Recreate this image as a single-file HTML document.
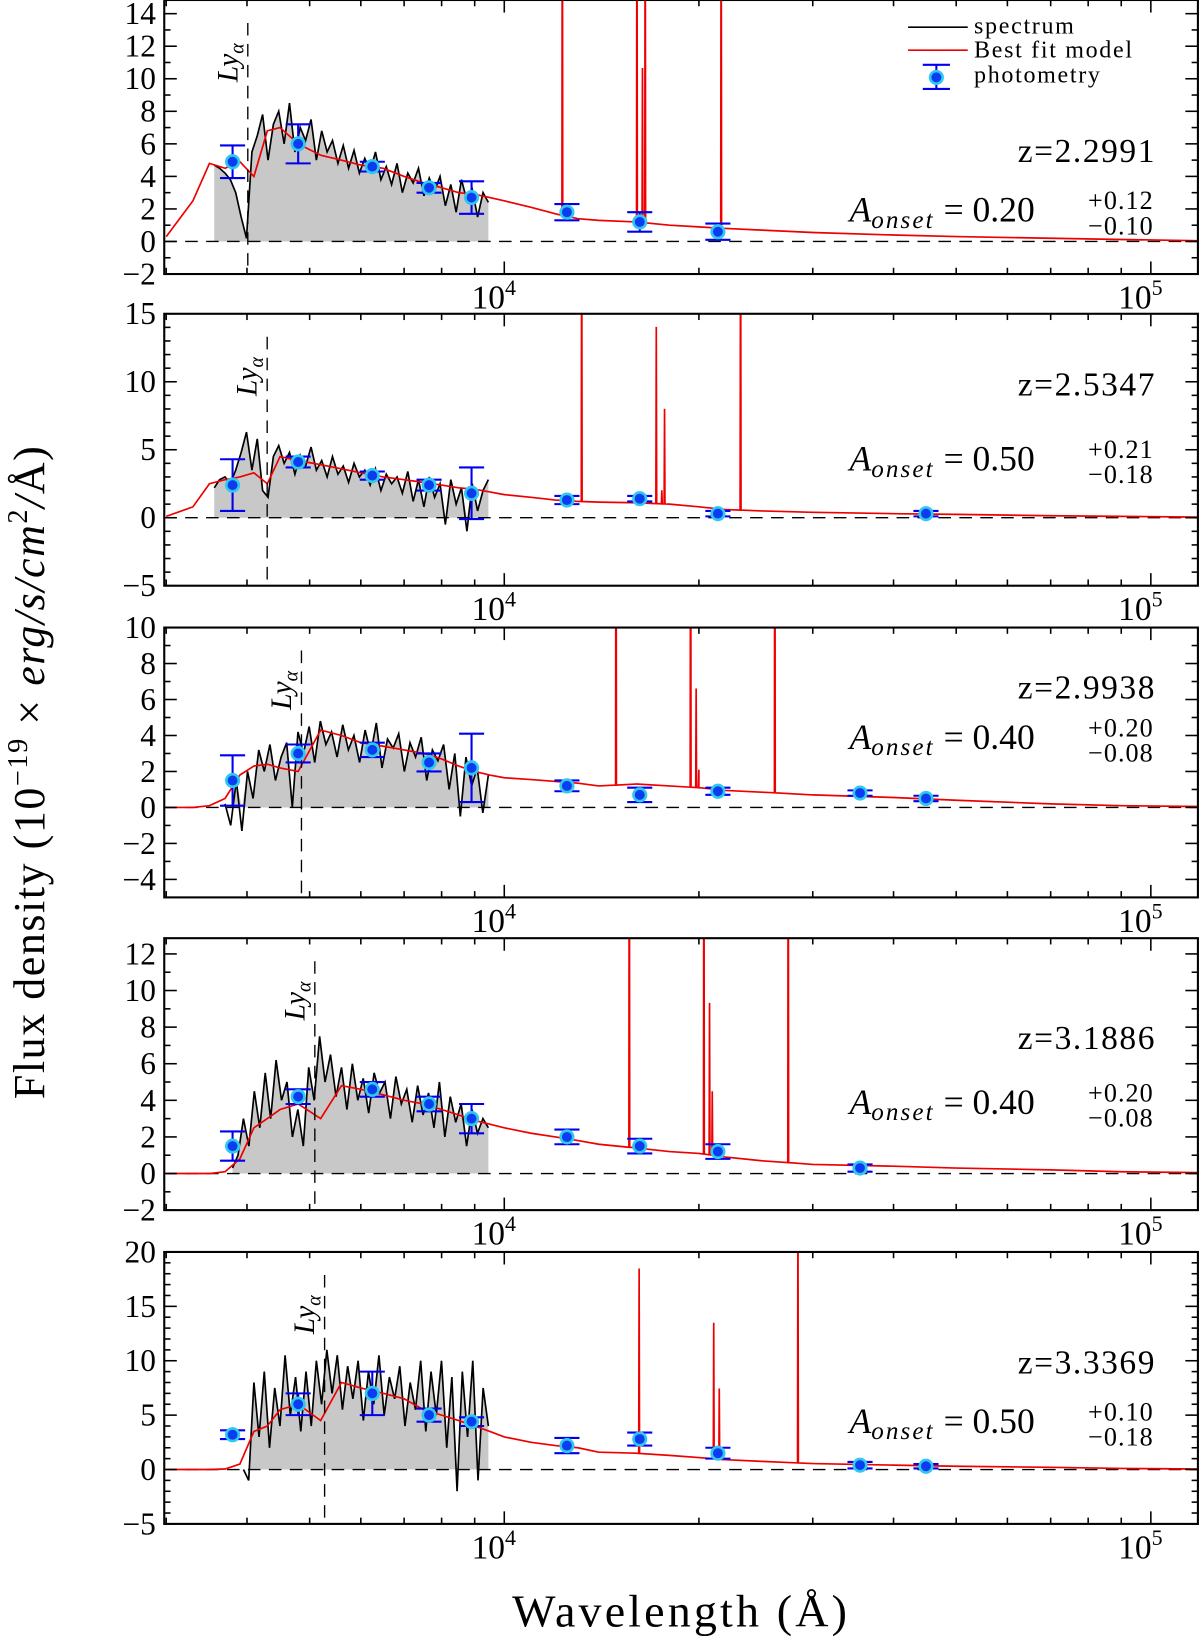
<!DOCTYPE html>
<html><head><meta charset="utf-8"><style>
html,body{margin:0;padding:0;background:#fff}
svg{display:block}
text{font-family:"Liberation Serif","DejaVu Serif",serif;fill:#000}
</style></head><body>
<svg id="chart" xmlns="http://www.w3.org/2000/svg" width="1200" height="1640" viewBox="0 0 1147 1568" preserveAspectRatio="none">
<text transform="translate(42,738) rotate(-90)" text-anchor="middle" font-size="42" letter-spacing="1.5">Flux density (10<tspan font-size="27" dy="-16">−19</tspan><tspan dy="16"> × </tspan><tspan font-style="italic">erg/s/cm</tspan><tspan font-size="27" dy="-16">2</tspan><tspan dy="16" font-style="italic">/</tspan>Å)</text>
<text x="651" y="1555" text-anchor="middle" font-size="44" letter-spacing="3">Wavelength (Å)</text>
</svg>
<script>
// ---- data ----
const photLam=[3800,4800,6250,7650,8900,12500,16200,21400,35500,44900];
const phot1=[4.9,6.0,4.6,3.3,2.7,1.8,1.2,0.6,null,null];
const err1=[1.0,1.2,0.3,0.3,1.0,0.5,0.6,0.5,null,null];
const phot2=[2.4,4.1,3.1,2.4,1.8,1.3,1.4,0.3,null,0.3];
const err2=[1.9,0.4,0.3,0.4,1.9,0.3,0.2,0.2,null,0.2];
const phot3=[1.5,3.0,3.2,2.5,2.2,1.2,0.7,0.9,0.8,0.5];
const err3=[1.4,0.5,0.4,0.5,1.9,0.3,0.4,0.2,0.15,0.15];
const phot4=[1.5,4.2,4.6,3.8,3.0,2.0,1.5,1.2,0.3,null];
const err4=[0.8,0.4,0.4,0.4,0.8,0.4,0.4,0.4,0.2,null];
const phot5=[3.2,6.0,7.0,5.0,4.4,2.2,2.8,1.5,0.4,0.3];
const err5=[0.4,1.0,2.0,0.6,0.4,0.7,0.6,0.5,0.3,0.2];

const modelLam=[3000,3300,3500,3700,3900,4100,4300,4500,4800,5200,5600,6000,6500,7000,7500,8000,8500,9000,9500,10000,11000,12000,13000,14000,16000,18000,20000,22000,25000,30000,40000,50000,70000,90000,118000];
const model1=[0.3,2.5,4.8,4.5,4.9,4.0,6.8,7.0,6.0,5.3,5.0,4.7,4.5,4.0,3.6,3.3,3.0,2.9,2.7,2.5,2.1,1.7,1.4,1.3,1.2,1.0,0.9,0.8,0.7,0.55,0.4,0.3,0.2,0.12,0.05];
const model2=[0.1,0.8,2.5,2.8,3.0,3.3,2.5,4.5,4.2,3.9,3.6,3.3,3.0,2.8,2.6,2.4,2.2,2.1,1.9,1.7,1.5,1.3,1.2,1.15,1.1,1.0,0.8,0.6,0.5,0.4,0.3,0.25,0.15,0.1,0.05];
const model3=[0,0,0.1,0.5,1.8,2.3,2.4,2.2,2.0,4.3,4.0,3.6,3.4,3.2,3.0,2.7,2.3,2.0,1.8,1.65,1.55,1.45,1.35,1.2,1.3,1.2,1.1,0.95,0.85,0.7,0.55,0.4,0.2,0.1,0.05];
const model4=[0,0,0,0.1,0.8,2.5,3.0,3.5,3.8,3.0,4.8,4.6,4.3,4.0,3.8,3.5,3.2,2.9,2.7,2.5,2.2,2.0,1.8,1.6,1.4,1.2,1.1,0.9,0.7,0.5,0.4,0.3,0.2,0.1,0.05];
const model5=[0,0,0,0.05,0.5,3.5,4.0,5.5,6.0,4.5,8.0,7.5,7.0,6.5,5.5,5.0,4.5,4.0,3.5,3.0,2.5,2.2,2.0,1.6,1.5,1.3,1.1,0.9,0.75,0.55,0.4,0.3,0.2,0.1,0.05];

const restLines=[3727,4861,4959,5007,6563];
const lineH1=[25,25,9.5,25,25];
const lineH2=[25,13,1,7,25];
const lineH3=[25,25,5.5,1,25];
const lineH4=[25,25,8.3,3.5,25];
const lineH5=[17,12.5,6.5,1,25];

const spec1=[4.7,4.5,4.2,3.8,3.0,1.5,0.2,5.5,6.5,7.8,5.0,7.2,8.0,6.0,8.5,5.5,7.0,6.2,7.5,5.0,6.8,5.5,6.2,4.8,5.9,4.5,5.6,4.2,5.1,4.3,5.5,3.8,4.6,3.5,4.8,3.0,4.2,3.6,4.5,2.8,3.9,3.1,4.0,2.2,3.5,1.8,3.8,2.5,3.2,1.5,3.0,2.4];
const spec2=[2.2,2.8,3.0,2.5,3.5,4.8,6.3,3.5,5.8,2.0,1.5,4.5,5.3,4.0,4.8,3.2,4.6,3.8,5.2,3.5,4.2,3.0,4.5,3.2,3.8,2.6,4.0,3.0,3.5,2.4,3.6,2.0,3.2,2.5,3.0,1.8,3.4,1.2,2.8,0.8,3.0,1.5,2.5,-0.5,2.8,1.0,2.2,-1.0,2.5,0.5,2.0,2.8];
const spec3=[0.2,-1.0,1.5,-1.3,2.0,0.5,3.2,2.0,3.5,1.5,2.8,3.6,0.0,4.2,3.0,4.5,2.5,4.8,3.5,4.2,2.8,4.6,3.2,4.0,2.5,4.3,3.0,4.7,2.2,3.8,3.3,4.1,2.0,3.6,2.8,3.9,1.5,3.2,2.6,3.5,1.0,3.0,-0.5,2.8,1.2,2.2,-0.3,1.8];
const spec4=[0.3,1.0,3.0,1.5,4.5,2.5,5.5,3.0,6.2,4.0,5.0,2.0,3.5,1.5,5.8,4.0,7.5,5.0,6.5,4.2,5.8,3.5,6.0,4.0,5.2,3.3,5.5,4.4,5.0,3.0,5.3,3.8,4.6,2.8,4.8,3.2,4.4,2.5,5.0,2.0,4.2,2.8,3.8,1.5,3.5,2.2,3.0,2.5];
const spec5=[0.0,-1.0,8.0,3.0,9.0,2.0,7.5,4.0,10.5,5.0,8.5,3.5,9.0,4.0,10.0,6.0,11.0,7.0,10.5,5.5,9.5,6.5,10.0,4.5,9.0,6.0,10.5,5.0,8.5,6.5,9.5,4.0,8.0,5.5,10.0,3.5,9.0,5.0,10.0,2.0,8.5,-2.0,9.0,3.0,10.0,-1.0,7.5,4.0];
const specStart=[3560,3560,3700,3800,3950];
const specEnd=9450;

const redshifts=[2.2991,2.5347,2.9938,3.1886,3.3369];
const zLabels=["2.2991","2.5347","2.9938","3.1886","3.3369"];
const aVal=["0.20","0.50","0.40","0.40","0.50"];
const aUp=["+0.12","+0.21","+0.20","+0.20","+0.10"];
const aDn=["−0.10","−0.18","−0.08","−0.08","−0.18"];
const yTicks1=[-2,0,2,4,6,8,10,12,14];
const yTicks2=[-5,0,5,10,15];
const yTicks3=[-4,-2,0,2,4,6,8,10];
const yTicks4=[-2,0,2,4,6,8,10,12];
const yTicks5=[-5,0,5,10,15,20];

// ---- layout ----
const NS="http://www.w3.org/2000/svg";
const svg=document.getElementById('chart');
const X0=157,X1=1145;
const xs=l=>482+618*(Math.log10(l)-4);
const panels=[
 {top:0,bot:262,ymin:-2,ymax:14.84,ticks:yTicks1,spec:spec1,model:model1,phot:phot1,err:err1,lh:lineH1,zy:155,ay:212},
 {top:300,bot:560,ymin:-5,ymax:15,ticks:yTicks2,spec:spec2,model:model2,phot:phot2,err:err2,lh:lineH2,zy:378,ay:450},
 {top:600,bot:858,ymin:-5,ymax:10,ticks:yTicks3,spec:spec3,model:model3,phot:phot3,err:err3,lh:lineH3,zy:668,ay:716},
 {top:897,bot:1157,ymin:-2,ymax:12.86,ticks:yTicks4,spec:spec4,model:model4,phot:phot4,err:err4,lh:lineH4,zy:1003,ay:1065},
 {top:1197,bot:1457,ymin:-5,ymax:20,ticks:yTicks5,spec:spec5,model:model5,phot:phot5,err:err5,lh:lineH5,zy:1313,ay:1370}
];
function mk(tag,attrs,parent){const e=document.createElementNS(NS,tag);for(const k in attrs)e.setAttribute(k,attrs[k]);(parent||svg).appendChild(e);return e;}
function interp(arr,l){for(let i=0;i<modelLam.length-1;i++){if(l>=modelLam[i]&&l<=modelLam[i+1]){const t=(Math.log(l)-Math.log(modelLam[i]))/(Math.log(modelLam[i+1])-Math.log(modelLam[i]));return arr[i]+t*(arr[i+1]-arr[i]);}}return 0;}

panels.forEach((p,pi)=>{
 const ys=v=>p.bot-(v-p.ymin)*(p.bot-p.top)/(p.ymax-p.ymin);
 const g=mk('g',{});
 
 
 const cid='clip'+pi;
 const cp=mk('clipPath',{id:cid},g);mk('rect',{x:X0,y:p.top,width:X1-X0,height:p.bot-p.top},cp);
 const pg=mk('g',{'clip-path':'url(#'+cid+')'},g);
 const n=p.spec.length,l0=Math.log10(specStart[pi]),l1=Math.log10(specEnd);
 const sl=p.spec.map((v,i)=>Math.pow(10,l0+(l1-l0)*i/(n-1)));
 let fd='M'+xs(sl[0])+','+ys(0);
 sl.forEach((l,i)=>{fd+=' L'+xs(l).toFixed(1)+','+ys(Math.max(0,p.spec[i])).toFixed(1);});
 fd+=' L'+xs(sl[n-1])+','+ys(0)+'Z';
 const fill=mk('path',{d:fd,fill:'#c8c8c8',stroke:'none'},pg);
 
 
 const zl=mk('line',{x1:X0,x2:X1,y1:ys(0),y2:ys(0),stroke:'#000','stroke-width':1.3,'stroke-dasharray':'12,8'},pg);
 
 
 let sd='';sl.forEach((l,i)=>{sd+=(i?' L':'M')+xs(l).toFixed(1)+','+ys(p.spec[i]).toFixed(1);});
 const sp=mk('path',{d:sd,fill:'none',stroke:'#000','stroke-width':1.6},pg);
 
 
 const z=redshifts[pi];
 let pts=modelLam.map((l,i)=>[l,p.model[i]]);
 restLines.forEach((rl,k)=>{const lo=rl*(1+z),b=interp(p.model,lo);pts.push([lo*0.9985,b],[lo,b+p.lh[k]],[lo*1.0015,b]);});
 pts.sort((a,b)=>a[0]-b[0]);
 let md='';pts.forEach((q,i)=>{md+=(i?' L':'M')+xs(q[0]).toFixed(1)+','+ys(q[1]).toFixed(1);});
 const mp=mk('path',{d:md,fill:'none',stroke:'#e00','stroke-width':1.6},pg);
 
 
 const lx=xs(1216*(1+z));
 const ll=mk('line',{x1:lx,x2:lx,y1:p.top+22,y2:p.bot,stroke:'#000','stroke-width':1.3,'stroke-dasharray':'12,8'},pg);
 
 
 const lt=mk('text',{transform:`translate(${lx-10},${p.top+60}) rotate(-90)`,'font-size':28,'font-style':'italic','text-anchor':'middle'},g);
 lt.innerHTML='Ly<tspan font-size="19" dy="6">α</tspan>';
 
 
 photLam.forEach((l,i)=>{const v=p.phot[i];if(v==null)return;const x=xs(l),e=p.err[i];
  const pgp=mk('g',{},pg);
  
  
  mk('line',{x1:x,x2:x,y1:ys(v-e),y2:ys(v+e),stroke:'#0000ee','stroke-width':2},pgp);
  mk('line',{x1:x-12,x2:x+12,y1:ys(v-e),y2:ys(v-e),stroke:'#0000ee','stroke-width':2},pgp);
  mk('line',{x1:x-12,x2:x+12,y1:ys(v+e),y2:ys(v+e),stroke:'#0000ee','stroke-width':2},pgp);
  mk('circle',{cx:x,cy:ys(v),r:6,fill:'#0a3cf0',stroke:'#30c8f0','stroke-width':2.5},pgp);
 });
 const fr=mk('rect',{x:X0,y:p.top,width:X1-X0,height:p.bot-p.top,fill:'none',stroke:'#000','stroke-width':2},g);
 
 
 for(let d=1000;d<=100000;d*=10)for(let m=1;m<=9;m++){const l=d*m,x=xs(l);if(x<X0||x>X1)continue;const L=m==1?12:6;
  mk('line',{x1:x,x2:x,y1:p.bot,y2:p.bot-L,stroke:'#000','stroke-width':1.5},g);
  mk('line',{x1:x,x2:x,y1:p.top,y2:p.top+L,stroke:'#000','stroke-width':1.5},g);}
 [[10000,'4'],[100000,'5']].forEach(([l,e])=>{const t=mk('text',{x:xs(l)-10,y:p.bot+33,'font-size':32,'text-anchor':'middle'},g);t.innerHTML='10<tspan font-size="21" dy="-13">'+e+'</tspan>';
  
  });
 const step=p.ticks[1]-p.ticks[0];
 const ms=step/(step==5?5:2);
 for(let v=Math.ceil(p.ymin/ms)*ms;v<=p.ymax;v+=ms){const y=ys(v);const maj=p.ticks.some(t=>Math.abs(t-v)<1e-6);const L=maj?12:6;
  mk('line',{x1:X0,x2:X0+L,y1:y,y2:y,stroke:'#000','stroke-width':1.5},g);
  mk('line',{x1:X1,x2:X1-L,y1:y,y2:y,stroke:'#000','stroke-width':1.5},g);}
 p.ticks.forEach(v=>{const t=mk('text',{x:X0-8,y:ys(v)+10,'font-size':30,'text-anchor':'end'},g);t.textContent=(v<0?'−':'')+Math.abs(v);
  
  });
 const zt=mk('text',{x:1105,y:p.zy,'font-size':32,'text-anchor':'end','letter-spacing':1.5},g);zt.textContent='z='+zLabels[pi];
 
 
 const at=mk('text',{x:812,y:p.ay,'font-size':34},g);
 at.innerHTML='<tspan font-style="italic">A</tspan><tspan font-style="italic" font-size="24" dy="6" letter-spacing="2">onset</tspan><tspan dy="-6"> = '+aVal[pi]+'</tspan>';
 
 
 const au=mk('text',{x:1040,y:p.ay-12,'font-size':25,'letter-spacing':1},g);au.textContent=aUp[pi];
 
 
 const ad=mk('text',{x:1040,y:p.ay+12,'font-size':25,'letter-spacing':1},g);ad.textContent=aDn[pi];
 
 
});
const lg=mk('g',{});


mk('line',{x1:868,x2:925,y1:26,y2:26,stroke:'#000','stroke-width':1.6},lg);
mk('line',{x1:868,x2:925,y1:48,y2:48,stroke:'#e00','stroke-width':1.6},lg);
mk('line',{x1:895,x2:895,y1:62,y2:85,stroke:'#0000ee','stroke-width':2},lg);
mk('line',{x1:882,x2:908,y1:62,y2:62,stroke:'#0000ee','stroke-width':2},lg);
mk('line',{x1:882,x2:908,y1:85,y2:85,stroke:'#0000ee','stroke-width':2},lg);
mk('circle',{cx:895,cy:74,r:6,fill:'#0a3cf0',stroke:'#30c8f0','stroke-width':2.5},lg);
[['spectrum',32],['Best fit model',55],['photometry',79]].forEach(([s,y])=>{const t=mk('text',{x:931,y:y,'font-size':23,'letter-spacing':1.6},lg);t.textContent=s;
 
 });
</script>
</body></html>
